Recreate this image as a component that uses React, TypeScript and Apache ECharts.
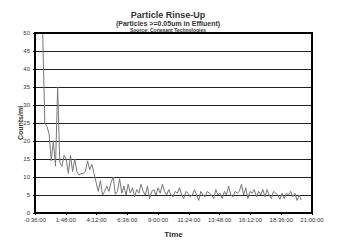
import React, { useEffect, useRef } from "react";
import * as echarts from "echarts";

const startMin = 0;
const stepMin = 10;
const counts = [
  50, 25, 24, 22, 14.5, 20, 13, 35, 14, 13,
  16, 15, 11, 16, 11.5, 15, 11.5, 10.5, 11, 11,
  11.5, 14.5, 12, 13.5, 11, 8.5, 6, 9, 5, 6,
  7.5, 6, 8.5, 10, 5.2, 6, 9.5, 5.5, 7.5, 5,
  8, 5.5, 7, 4.5, 6.5, 5.5, 8, 6, 5, 7.5,
  4, 6, 6.5, 5, 7, 5.5, 8, 6, 5, 6.5,
  5, 4.5, 6, 5.5, 7, 5, 4, 6, 5.5, 4.5,
  5, 6.5, 5, 3.5, 6, 5, 4.5, 6, 5.5, 5,
  4, 6.5, 5, 5.5, 4, 6, 5, 7.5, 5, 4.5,
  6, 5.5, 6, 8, 5, 7, 4, 6, 5.5, 6.5,
  4.5, 6, 5, 6.5, 4.5, 6.5, 5, 4, 6, 5.5,
  5, 3.8, 5.5, 4, 5.5, 5, 6, 4.5, 5.5, 3.5,
  5, 3.6,
];
const yTicks = [0, 5, 10, 15, 20, 25, 30, 35, 40, 45, 50];
const xMinMin = -36; // axis starts at -0:36:00
const xMaxMin = 1260; // 21:00:00
const xStepMin = 144; // 2:24:00

function fmt(mins: number): string {
  const neg = mins < 0;
  const a = Math.abs(Math.round(mins));
  const h = Math.floor(a / 60);
  const m = a % 60;
  return (neg ? "-" : "") + h + ":" + String(m).padStart(2, "0") + ":00";
}

export default function App() {
  const ref = useRef<HTMLDivElement>(null);
  useEffect(() => {
    if (!ref.current) return;
    const chart = echarts.init(ref.current, null, { renderer: "svg" });
    const data = counts.map((v, i) => [startMin + i * stepMin - xMinMin, v]);
    chart.setOption({
      animation: false,
      backgroundColor: "#fff",
      textStyle: { fontFamily: "Liberation Sans, Arial, sans-serif" },
      graphic: [
        {
          type: "text",
          x: 168, y: 15,
          style: { text: "Particle Rinse-Up", fill: "#333", font: "bold 9px Liberation Sans", textAlign: "center", textVerticalAlign: "middle" },
        },
        {
          type: "text",
          x: 168, y: 23,
          style: { text: "(Particles >=0.05um in Effluent)", fill: "#333", font: "bold 7px Liberation Sans", textAlign: "center", textVerticalAlign: "middle" },
        },
        {
          type: "text",
          x: 168, y: 29.5,
          style: { text: "Source: Conexant Technologies", fill: "#333", font: "bold 5px Liberation Sans", textAlign: "center", textVerticalAlign: "middle" },
        },
        {
          type: "text",
          x: 20, y: 123,
          rotation: Math.PI / 2,
          style: { text: "Counts/ml", fill: "#333", font: "bold 7px Liberation Sans", textAlign: "center", textVerticalAlign: "middle" },
        },
        {
          type: "rect",
          shape: { x: 35, y: 33, width: 277, height: 180 },
          style: { fill: "none", stroke: "#000", lineWidth: 2 },
          z: 100,
        },
      ],
      grid: { left: 35, right: 38, top: 33, bottom: 27, containLabel: false, outerBoundsMode: "none" },
      xAxis: {
        type: "value",
        min: 0,
        max: xMaxMin - xMinMin,
        interval: xStepMin,
        name: "Time",
        nameLocation: "middle",
        nameGap: 17,
        nameTextStyle: { fontSize: 8, fontWeight: "bold", color: "#333" },
        axisLine: { show: true, lineStyle: { color: "#000", width: 1 } },
        axisTick: { show: true, length: 2, lineStyle: { color: "#000" } },
        axisLabel: { fontSize: 6, color: "#333", margin: 4, formatter: (v: number) => fmt(v + xMinMin) },
        splitLine: { show: false },
      },
      yAxis: {
        type: "value",
        min: yTicks[0],
        max: yTicks[yTicks.length - 1],
        interval: 5,
        axisLine: { show: true, lineStyle: { color: "#000" } },
        axisTick: { show: true, length: 2, lineStyle: { color: "#000" } },
        axisLabel: { fontSize: 6, color: "#333", margin: 5 },
        splitLine: { show: true, lineStyle: { color: "#222", width: 1 } },
      },
      series: [
        {
          type: "line",
          data,
          symbol: "none",
          lineStyle: { color: "#777", width: 1 },
          clip: true,
        },
      ],
    });
    return () => chart.dispose();
  }, []);
  return <div ref={ref} style={{ width: 350, height: 240, position: "absolute", left: 0, top: 0 }} />;
}
